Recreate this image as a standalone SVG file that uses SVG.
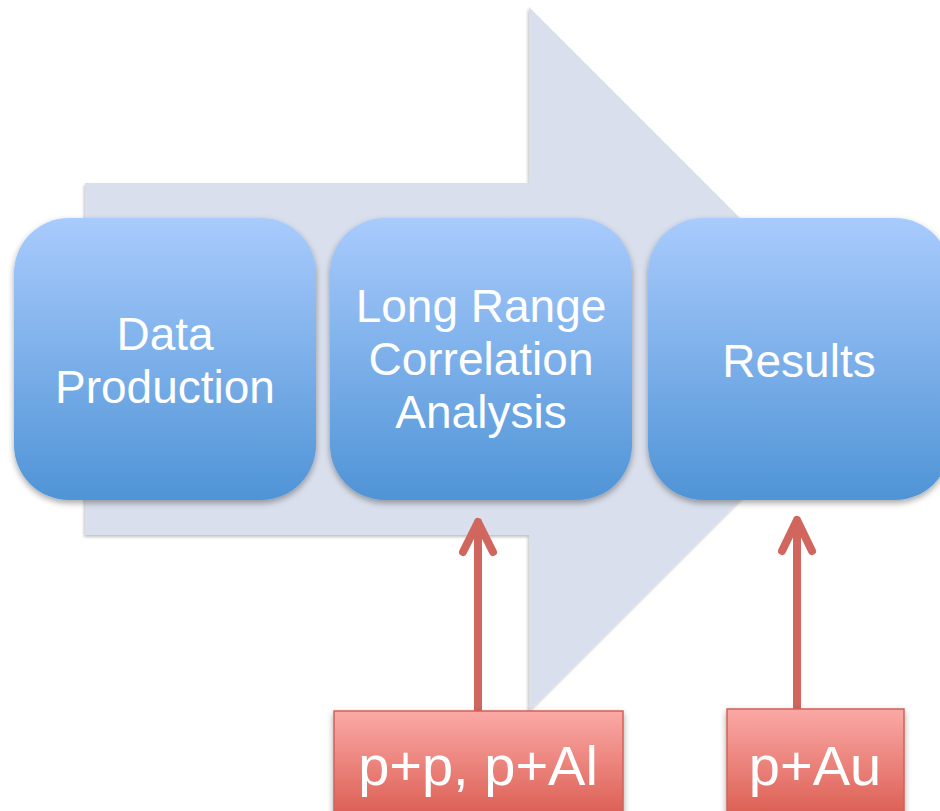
<svg xmlns="http://www.w3.org/2000/svg" width="940" height="811" viewBox="0 0 940 811">
<defs>
<linearGradient id="blue" x1="0" y1="0" x2="0" y2="1">
<stop offset="0" stop-color="#A9CBFD"/>
<stop offset="1" stop-color="#4F94D6"/>
</linearGradient>
<linearGradient id="red" x1="0" y1="0" x2="0" y2="1">
<stop offset="0" stop-color="#FBA9A6"/>
<stop offset="1" stop-color="#DA5B4F"/>
</linearGradient>
<filter id="sh" x="-10%" y="-10%" width="120%" height="125%">
<feDropShadow dx="0" dy="3" stdDeviation="3" flood-color="#000" flood-opacity="0.35"/>
</filter>
<filter id="sh2" x="-10%" y="-10%" width="120%" height="120%">
<feDropShadow dx="-1" dy="2" stdDeviation="1.5" flood-color="#000" flood-opacity="0.25"/>
</filter>
</defs>
<style>
.box{fill:url(#blue);filter:url(#sh)}
.lbl{fill:#fff;font-family:"Liberation Sans",Arial,sans-serif;font-size:46px;text-anchor:middle}
.rbox{fill:url(#red);stroke:#D0625A;stroke-width:1.5;filter:url(#sh)}
.rlbl{fill:#fff;font-family:"Liberation Sans",Arial,sans-serif;font-size:56px;text-anchor:middle}
.conn{fill:none;stroke:#D0665E;stroke-width:8;stroke-linecap:round;stroke-linejoin:round}
</style>
<g id="bigarrow">
<path d="M85,183 H529 V7 L881,359 L529,711 V535 H85 Z" fill="#D9DFEC" filter="url(#sh2)"/>
</g>
<g id="node-data">
<rect class="box" x="14" y="218" width="302" height="282" rx="55"/>
<text class="lbl" x="165" y="350">Data</text>
<text class="lbl" x="165" y="403">Production</text>
</g>
<g id="node-lrca">
<rect class="box" x="330" y="218" width="302" height="282" rx="55"/>
<text class="lbl" x="481" y="322">Long Range</text>
<text class="lbl" x="481" y="375">Correlation</text>
<text class="lbl" x="481" y="428">Analysis</text>
</g>
<g id="node-results">
<rect class="box" x="648" y="218" width="302" height="282" rx="55"/>
<text class="lbl" x="799" y="377">Results</text>
</g>
<g id="connectors">
<path class="conn" d="M478,711 V522 M463,552 L478,522 L493,552"/>
<path class="conn" d="M797,709 V520 M782,551 L797,520 L812,551"/>
</g>
<g id="node-pp">
<rect class="rbox" x="334" y="711" width="289" height="110"/>
<text class="rlbl" x="478" y="785">p+p, p+Al</text>
</g>
<g id="node-pau">
<rect class="rbox" x="727" y="709" width="177" height="112"/>
<text class="rlbl" x="815" y="785">p+Au</text>
</g>
</svg>
